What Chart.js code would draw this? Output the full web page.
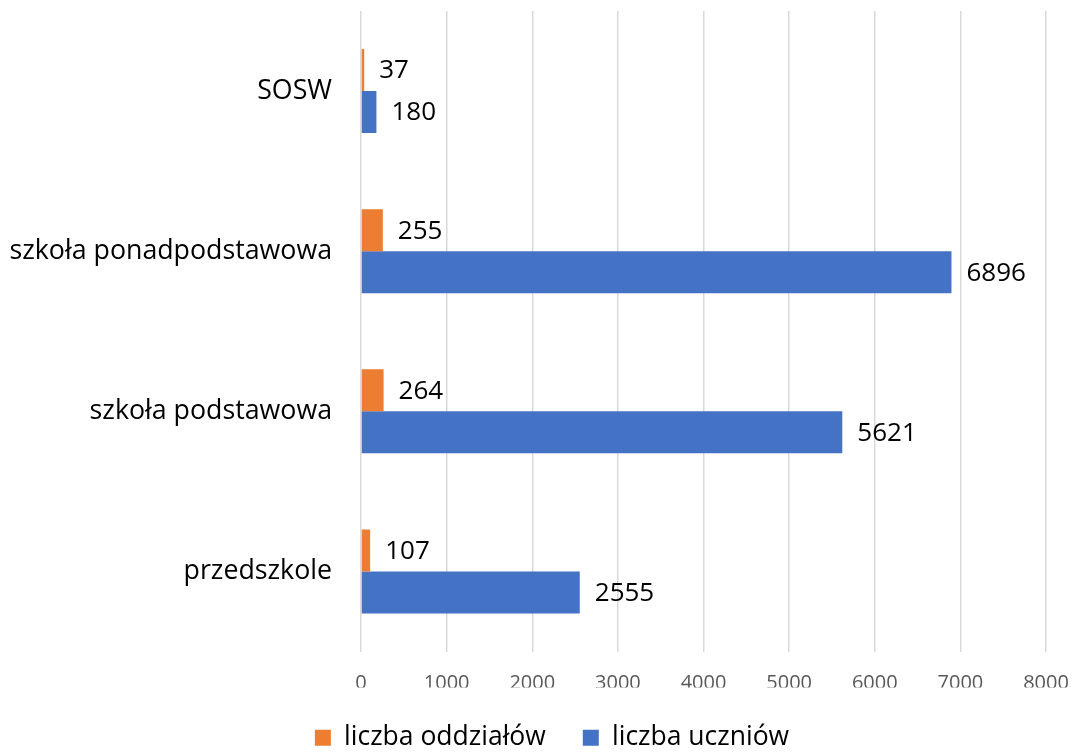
<!DOCTYPE html>
<html lang="pl">
<head>
<meta charset="UTF-8">
<title>Oddziały i uczniowie</title>
<script src="https://cdn.jsdelivr.net/npm/chart.js"></script>
<style>
    html, body { margin: 0; padding: 0; background: #fff; }
    #wrap { width: 1074px; height: 753px; }
</style>
</head>
<body>
<div id="wrap"><canvas id="chart"></canvas></div>
<script>
    // dane
    const categories = ['SOSW', 'szkoła ponadpodstawowa', 'szkoła podstawowa', 'przedszkole'];
    const oddzialy = [37, 255, 264, 107];
    const uczniowie = [180, 6896, 5621, 2555];
    const seriesNames = ['liczba oddziałów', 'liczba uczniów'];
    const xTicks = [0, 1000, 2000, 3000, 4000, 5000, 6000, 7000, 8000];

    const FONT = '"Open Sans", "Noto Sans", sans-serif';

    // etykiety wartości po prawej stronie słupków
    const valueLabels = {
        id: 'valueLabels',
        afterDatasetsDraw(chart) {
            const ctx = chart.ctx;
            ctx.save();
            ctx.font = '26px ' + FONT;
            ctx.fillStyle = '#000';
            ctx.textAlign = 'left';
            ctx.textBaseline = 'middle';
            chart.data.datasets.forEach((ds, i) => {
                chart.getDatasetMeta(i).data.forEach((bar, j) => {
                    ctx.fillText(String(ds.data[j]), bar.x + 15, bar.y + 1);
                });
            });
            ctx.restore();
        }
    };

    // legenda w oryginale jest lekko przesunięta w prawo
    const legendShift = {
        id: 'legendShift',
        afterLayout(chart) {
            if (chart.legend) {
                chart.legend.left += 29;
                chart.legend.right += 29;
            }
        }
    };

    new Chart(document.getElementById('chart'), {
        type: 'bar',
        data: {
            labels: categories,
            datasets: [{
                label: seriesNames[0],
                data: oddzialy,
                backgroundColor: '#ED7D31',
                categoryPercentage: 0.525,
                barPercentage: 1
            }, {
                label: seriesNames[1],
                data: uczniowie,
                backgroundColor: '#4472C4',
                categoryPercentage: 0.525,
                barPercentage: 1
            }]
        },
        options: {
            indexAxis: 'y',
            responsive: true,
            maintainAspectRatio: false,
            animation: false,
            layout: { padding: { top: 11, right: 28, left: 0, bottom: -8 } },
            scales: {
                x: {
                    min: 0,
                    max: 8000,
                    afterBuildTicks(scale) {
                        scale.ticks = xTicks.map(v => ({ value: v }));
                    },
                    afterFit(scale) {
                        scale.height = 36;
                        scale.paddingLeft = 0;
                        scale.paddingRight = 0;
                    },
                    grid: { color: '#D9D9D9', lineWidth: 1.5, drawTicks: false },
                    border: { display: false },
                    ticks: {
                        color: '#595959',
                        font: { family: FONT, size: 20 },
                        padding: 20,
                        maxRotation: 0,
                        callback: v => String(v)
                    }
                },
                y: {
                    afterFit(scale) {
                        scale.width = 361;
                        scale.paddingTop = 0;
                        scale.paddingBottom = 0;
                    },
                    grid: { display: false, drawTicks: false },
                    border: { display: false },
                    ticks: { color: '#000', font: { family: FONT, size: 26.75 }, padding: 29 }
                }
            },
            plugins: {
                legend: {
                    position: 'bottom',
                    labels: {
                        color: '#000',
                        font: { family: FONT, size: 26.5 },
                        boxWidth: 16,
                        boxHeight: 16,
                        padding: 37
                    }
                },
                tooltip: { enabled: false }
            }
        },
        plugins: [valueLabels, legendShift]
    });
</script>
</body>
</html>
